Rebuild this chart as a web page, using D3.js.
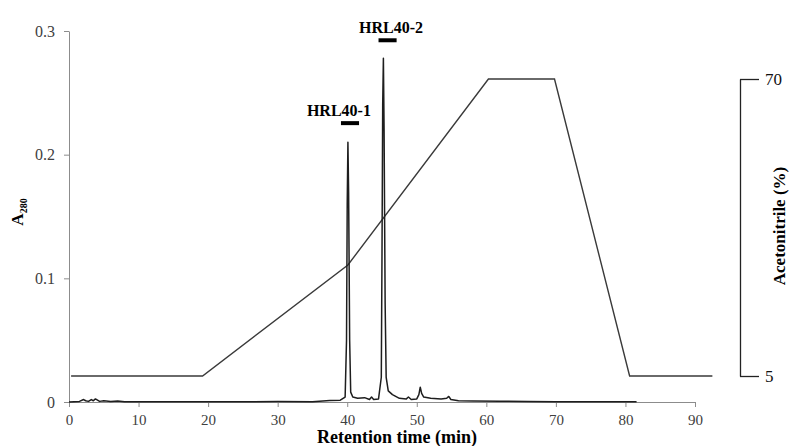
<!DOCTYPE html>
<html>
<head>
<meta charset="utf-8">
<script src="https://cdn.jsdelivr.net/npm/d3@7"></script>
<style>
  body { margin: 0; background: #fff; }
</style>
</head>
<body>
<svg width="792" height="446"></svg>
<script>
// chromatogram (A280)
var times = [0, 1.5, 2.1, 2.4, 2.8, 3.2, 3.5, 3.8, 4.1, 4.4, 5, 6, 7, 8, 12, 16, 20, 25, 30, 35, 37.5, 39, 39.7, 39.9, 40.0, 40.1, 40.2, 40.35, 40.5, 40.8, 41.5, 42.5, 43.2, 43.5, 43.8, 44.5, 44.9, 45.0, 45.1, 45.2, 45.3, 45.45, 45.6, 45.9, 46.5, 47.5, 48.5, 48.8, 49.2, 50.0, 50.3, 50.5, 50.7, 51.0, 52, 53.5, 54.3, 54.6, 54.9, 56, 58, 62, 66, 70, 74, 78, 81.6];
var a280 =  [0, 0.0005, 0.002, 0.001, 0.0005, 0.002, 0.001, 0.0025, 0.0015, 0.0005, 0.001, 0.0005, 0.0008, 0.0003, 0.0003, 0.0002, 0.0003, 0.0002, 0.0004, 0.0003, 0.0012, 0.0015, 0.004, 0.05, 0.16, 0.21, 0.17, 0.05, 0.008, 0.004, 0.003, 0.0035, 0.002, 0.004, 0.002, 0.0025, 0.02, 0.12, 0.24, 0.278, 0.22, 0.08, 0.02, 0.009, 0.006, 0.003, 0.0025, 0.004, 0.002, 0.0025, 0.006, 0.012, 0.007, 0.004, 0.003, 0.0025, 0.003, 0.0045, 0.002, 0.001, 0.0008, 0.0006, 0.0004, 0.0003, 0.0003, 0.0002, 0.0002];

// acetonitrile gradient
var gradTimes = [0.3, 19.2, 40.1, 60.3, 69.8, 80.6, 92.5];
var gradPct =   [5, 5, 29.3, 70, 70, 5, 5];

var xTicks = [0, 10, 20, 30, 40, 50, 60, 70, 80, 90];
var yTicks = [0, 0.1, 0.2, 0.3];
var rTicks = [5, 70];

var fractions = [
  { name: "HRL40-1", from: 39.1, to: 41.7, labelAt: 38.8, level: 0.2255, textLevel: 0.2315 },
  { name: "HRL40-2", from: 44.5, to: 47.1, labelAt: 46.3, level: 0.2925, textLevel: 0.2985 }
];

var serif = "Liberation Serif";

var svg = d3.select("svg");

var x = d3.scaleLinear().domain([0, 90]).range([69, 695]);
var y = d3.scaleLinear().domain([0, 0.3]).range([402, 31]);
var yR = d3.scaleLinear().domain([5, 70]).range([376, 79]);

// x axis
var xAxis = svg.append("g")
    .attr("transform", "translate(0," + y(0) + ")")
    .call(d3.axisBottom(x).tickValues(xTicks).tickSize(5).tickSizeOuter(0).tickPadding(7));
xAxis.attr("font-family", serif);
xAxis.select(".domain").attr("stroke", "#8c8c8c");
xAxis.selectAll(".tick line").attr("stroke", "#8c8c8c");
xAxis.selectAll("text").attr("font-size", 15).attr("fill", "#404040");

// left axis
var yAxis = svg.append("g")
    .attr("transform", "translate(" + x(0) + ",0)")
    .call(d3.axisLeft(y).tickValues(yTicks).tickSize(5).tickSizeOuter(0).tickPadding(9)
      .tickFormat(function(d) { return d === 0 ? "0" : d3.format(".1f")(d); }));
yAxis.attr("font-family", serif);
yAxis.select(".domain").attr("stroke", "#8c8c8c");
yAxis.selectAll(".tick line").attr("stroke", "#8c8c8c");
yAxis.selectAll("text").attr("font-size", 16).attr("fill", "#404040");

// right axis (bracket)
var rAxis = svg.append("g")
    .attr("transform", "translate(740,0)")
    .call(d3.axisRight(yR).tickValues(rTicks).tickSize(19).tickSizeOuter(0).tickPadding(6));
rAxis.attr("font-family", serif);
rAxis.select(".domain").attr("stroke", "#222").attr("stroke-width", 1.3);
rAxis.selectAll(".tick line").attr("stroke", "#222").attr("stroke-width", 1.3);
rAxis.selectAll("text").attr("font-size", 17).attr("fill", "#111");

// gradient line
var gradLine = d3.line()
    .x(function(d, i) { return x(gradTimes[i]); })
    .y(function(d) { return yR(d); });
svg.append("path")
    .datum(gradPct)
    .attr("fill", "none")
    .attr("stroke", "#3a3a3a")
    .attr("stroke-width", 1.4)
    .attr("d", gradLine);

// chromatogram
var chromLine = d3.line()
    .x(function(d, i) { return x(times[i]); })
    .y(function(d) { return y(d); });
svg.append("path")
    .datum(a280)
    .attr("fill", "none")
    .attr("stroke", "#1e1e1e")
    .attr("stroke-width", 1.5)
    .attr("stroke-linejoin", "round")
    .attr("d", chromLine);

// fraction labels and bars
fractions.forEach(function(f) {
  svg.append("line")
    .attr("x1", x(f.from)).attr("x2", x(f.to))
    .attr("y1", y(f.level)).attr("y2", y(f.level))
    .attr("stroke", "#000").attr("stroke-width", 4);
  svg.append("text")
    .attr("x", x(f.labelAt)).attr("y", y(f.textLevel))
    .attr("text-anchor", "middle")
    .attr("font-family", serif)
    .attr("font-size", 16).attr("font-weight", "bold")
    .text(f.name);
});

// axis titles
svg.append("text")
    .attr("x", 397).attr("y", 443)
    .attr("text-anchor", "middle")
    .attr("font-family", serif)
    .attr("font-size", 18).attr("font-weight", "bold")
    .text("Retention time (min)");

var aTitle = svg.append("text")
    .attr("transform", "translate(23,212) rotate(-90)")
    .attr("text-anchor", "middle")
    .attr("font-family", serif)
    .attr("font-weight", "bold");
aTitle.append("tspan").attr("font-size", 17).text("A");
aTitle.append("tspan").attr("font-size", 10).attr("dy", 4).text("280");

svg.append("text")
    .attr("transform", "translate(785,226) rotate(-90)")
    .attr("text-anchor", "middle")
    .attr("font-family", serif)
    .attr("font-size", 17).attr("font-weight", "bold")
    .text("Acetonitrile (%)");
</script>
</body>
</html>
